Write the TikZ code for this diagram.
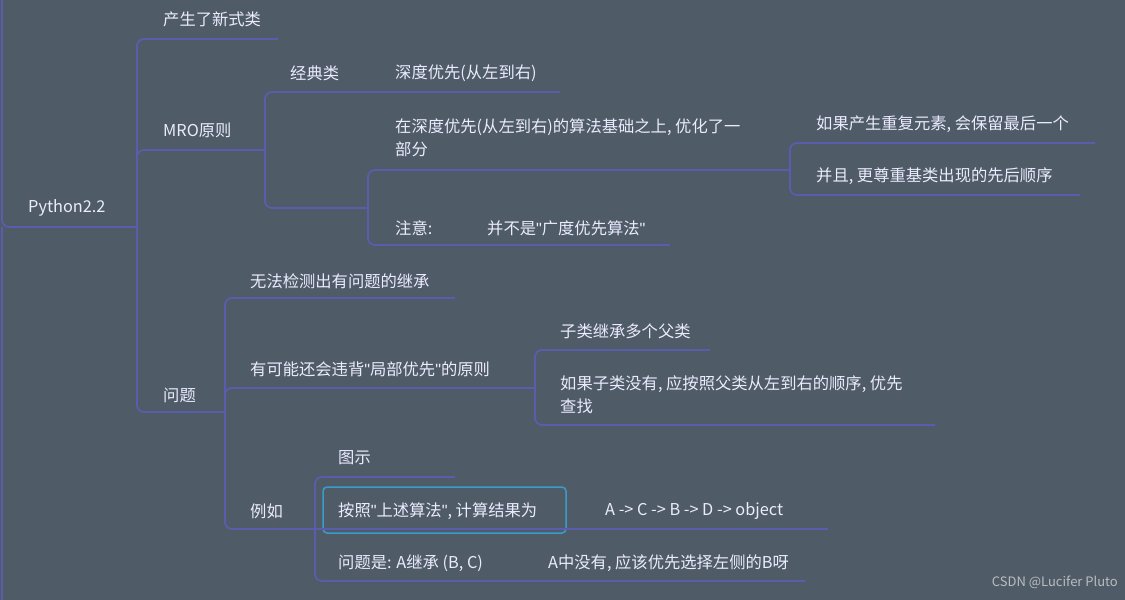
\documentclass[tikz,border=0pt]{standalone}
\usepackage{fontspec}
\setmainfont{Noto Sans CJK SC}
\newfontfamily\lat{Liberation Sans}
\newcommand{\q}{{\lat\symbol{34}}}
\begin{document}
\begin{tikzpicture}[x=1pt,y=-1pt,
  lbl/.style={anchor=west,text=white!92!blue,font=\fontsize{16.3}{23}\selectfont,inner sep=0pt},
  ln/.style={draw=lc,line width=1.8pt,rounded corners=7pt}]
\definecolor{bg}{HTML}{4F5B66}
\definecolor{lc}{HTML}{5A5DAE}
\definecolor{bx}{HTML}{3A9CC8}
\fill[bg] (0,0) rectangle (1125,600);
\useasboundingbox (0,0) rectangle (1125,600);
% texts
\node[lbl] (root) at (28,208) {Python2.2};
\node[lbl] (a1) at (163,19) {产生了新式类};
\node[lbl] (a2) at (163,130) {MRO原则};
\node[lbl] (a3) at (163,395) {问题};
\node[lbl] (b1) at (290,73) {经典类};
\node[lbl] (b1c) at (395,73) {深度优先(从左到右)};
\node[lbl,align=left] (c1) at (395,138) {在深度优先(从左到右)的算法基础之上, 优化了一\\部分};
\node[lbl] (d1) at (816,124) {如果产生重复元素, 会保留最后一个};
\node[lbl] (d2) at (816,176) {并且, 更尊重基类出现的先后顺序};
\node[lbl] (c2) at (395,228) {注意:};
\node[lbl] (c2c) at (487,228) {并不是\q 广度优先算法\q};
\node[lbl] (e1) at (250,281) {无法检测出有问题的继承};
\node[lbl] (e2) at (250,369) {有可能还会违背\q 局部优先\q 的原则};
\node[lbl] (f1) at (560,331) {子类继承多个父类};
\node[lbl,align=left] (f2) at (560,395) {如果子类没有, 应按照父类从左到右的顺序, 优先\\查找};
\node[lbl] (e3) at (250,511) {例如};
\node[lbl] (g1) at (338,458) {图示};
\node[lbl] (g2) at (338,511) {按照\q 上述算法\q, 计算结果为};
\node[lbl] (g2c) at (605,511) {A -> C -> B -> D -> object};
\node[lbl] (g3) at (338,563) {问题是: A继承 (B, C)};
\node[lbl] (g3c) at (548,563) {A中没有, 应该优先选择左侧的B呀};
\node[anchor=east,text=white!60!bg,font=\fontsize{13}{15}\selectfont,inner sep=0pt] (wm) at (1118,582) {CSDN @Lucifer Pluto};
% box
\draw[bx,line width=1.5pt,rounded corners=4pt] (323,487) rectangle (566,533);
% lines
\draw[ln] (2,0) -- (2,227) -- (137,227);
\draw[ln] (2,600) -- (2,227);
\draw[ln] (137,227) -- (137,39) -- (278,39);
\draw[ln] (137,227) -- (137,150) -- (265,150);
\draw[ln] (137,227) -- (137,412) -- (225,412);
\draw[ln] (265,150) -- (265,92) -- (380,92);
\draw[line width=1.8pt,draw=lc] (380,92) -- (560,92);
\draw[ln] (265,150) -- (265,208) -- (368,208);
\draw[ln] (368,208) -- (368,170) -- (790,170);
\draw[ln] (790,170) -- (790,143) -- (1095,143);
\draw[ln] (790,170) -- (790,195) -- (1080,195);
\draw[ln] (368,208) -- (368,245) -- (470,245);
\draw[line width=1.8pt,draw=lc] (470,245) -- (670,245);
\draw[ln] (225,412) -- (225,298) -- (455,298);
\draw[ln] (225,412) -- (225,388) -- (535,388);
\draw[ln] (535,388) -- (535,350) -- (710,350);
\draw[ln] (535,388) -- (535,425) -- (935,425);
\draw[ln] (225,412) -- (225,529) -- (315,529);
\draw[ln] (315,529) -- (315,477) -- (455,477);
\draw[line width=1.8pt,draw=lc] (315,529) -- (828,529);
\draw[ln] (315,529) -- (315,581) -- (805,581);
\end{tikzpicture}
\end{document}
